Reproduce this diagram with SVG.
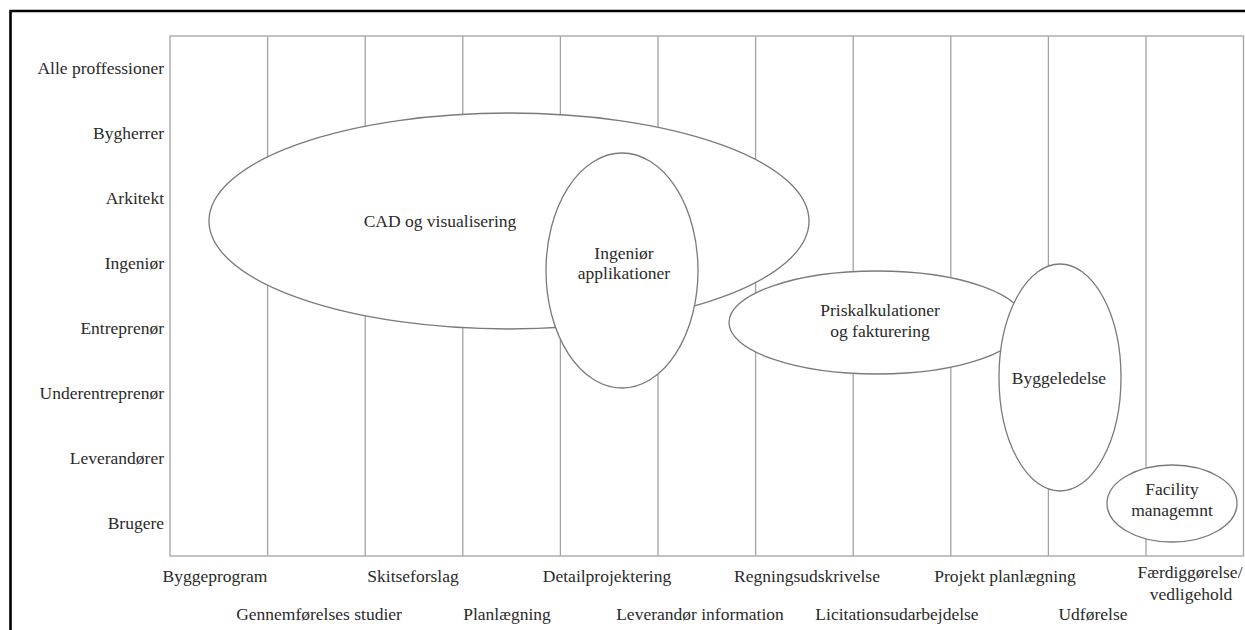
<svg xmlns="http://www.w3.org/2000/svg" width="1245" height="630" viewBox="0 0 1245 630">
  <style>
    text { font-family: "Liberation Serif", "Times New Roman", serif; font-size: 17.5px; fill: #2a2a2a; }
    .row { text-anchor: end; }
    .col { text-anchor: middle; }
    .lbl { text-anchor: middle; }
    .grid { stroke: #a3a3a3; stroke-width: 1.3; fill: none; }
    .area { fill: #ffffff; stroke: #7a7a7a; stroke-width: 1.3; }
    .frame { stroke: #000000; stroke-width: 2.6; fill: none; }
  </style>

  <rect x="0" y="0" width="1245" height="630" fill="#ffffff"/>

  <!-- page frame: top and left rule -->
  <path class="frame" d="M10.5,630 V11 H1245"/>

  <!-- chart box and phase separators -->
  <g id="grid">
    <rect class="grid" x="170" y="36" width="1073.5" height="520"/>
    <path class="grid" d="M267.6,36 V556 M365.2,36 V556 M462.8,36 V556 M560.4,36 V556 M658,36 V556 M755.6,36 V556 M853.2,36 V556 M950.8,36 V556 M1048.4,36 V556 M1146,36 V556"/>
  </g>

  <!-- actors -->
  <g id="rows">
    <text class="row" x="164" y="74">Alle proffessioner</text>
    <text class="row" x="164" y="139">Bygherrer</text>
    <text class="row" x="164" y="204">Arkitekt</text>
    <text class="row" x="164" y="269">Ingeniør</text>
    <text class="row" x="164" y="334">Entreprenør</text>
    <text class="row" x="164" y="399">Underentreprenør</text>
    <text class="row" x="164" y="464">Leverandører</text>
    <text class="row" x="164" y="529">Brugere</text>
  </g>

  <!-- phases -->
  <g id="phases">
    <text class="col" x="215" y="582">Byggeprogram</text>
    <text class="col" x="319" y="620">Gennemførelses studier</text>
    <text class="col" x="413" y="582">Skitseforslag</text>
    <text class="col" x="507" y="620">Planlægning</text>
    <text class="col" x="607" y="582">Detailprojektering</text>
    <text class="col" x="700" y="620">Leverandør information</text>
    <text class="col" x="807" y="582">Regningsudskrivelse</text>
    <text class="col" x="897" y="620">Licitationsudarbejdelse</text>
    <text class="col" x="1005" y="582">Projekt planlægning</text>
    <text class="col" x="1093" y="620">Udførelse</text>
    <text class="col" x="1190" y="578">Færdiggørelse/</text>
    <text class="col" x="1191" y="600">vedligehold</text>
  </g>

  <!-- application areas -->
  <g id="cad">
    <ellipse class="area" cx="509" cy="221" rx="300" ry="108"/>
    <text class="lbl" x="440" y="227">CAD og visualisering</text>
  </g>

  <g id="ingenior">
    <ellipse class="area" cx="622" cy="270.5" rx="76" ry="117.5"/>
    <text class="lbl" x="624" y="259">Ingeniør</text>
    <text class="lbl" x="624" y="279">applikationer</text>
  </g>

  <g id="priskalkulation">
    <ellipse class="area" cx="877" cy="322.5" rx="148" ry="51.5"/>
    <text class="lbl" x="880" y="316">Priskalkulationer</text>
    <text class="lbl" x="880" y="337">og fakturering</text>
  </g>

  <g id="byggeledelse">
    <ellipse class="area" cx="1060" cy="377.5" rx="61" ry="113.5"/>
    <text class="lbl" x="1059" y="384">Byggeledelse</text>
  </g>

  <g id="facility">
    <ellipse class="area" cx="1172" cy="503.5" rx="65" ry="38.5"/>
    <text class="lbl" x="1172" y="495">Facility</text>
    <text class="lbl" x="1172" y="516">managemnt</text>
  </g>
</svg>
